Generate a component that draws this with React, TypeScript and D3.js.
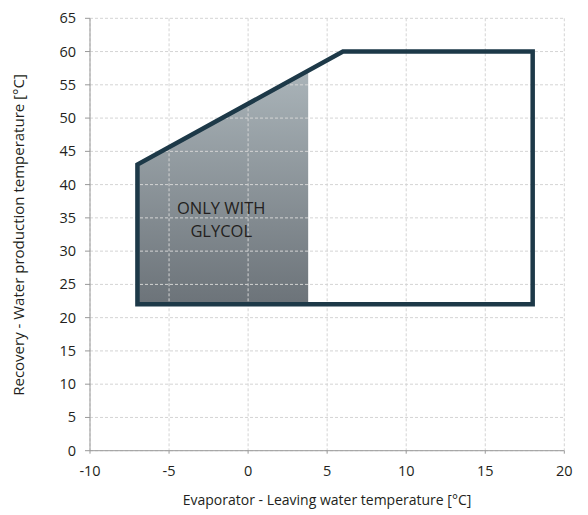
import React from "react";
import * as d3 from "d3";

const xTicks = [-10, -5, 0, 5, 10, 15, 20];
const yTicks = [0, 5, 10, 15, 20, 25, 30, 35, 40, 45, 50, 55, 60, 65];
const envelopeX = [-7, -7, 6, 18, 18];
const envelopeY = [22, 43, 60, 60, 22];
const glycolX = [-7, -7, 3.8, 3.8];
const glycolY = [22, 43, 57.1, 22];
const glycolLabel = ["ONLY WITH", "GLYCOL"];
const xTitle = "Evaporator - Leaving water temperature [°C]";
const yTitle = "Recovery - Water production temperature [°C]";

const W = 588, H = 515;
const left = 90, right = 564.3, top = 18.3, bottom = 450.7;
const font = "'Open Sans', 'Noto Sans', sans-serif";

export default function App() {
  const x = d3.scaleLinear().domain([-10, 20]).range([left, right]);
  const y = d3.scaleLinear().domain([0, 65]).range([bottom, top]);
  const line = d3.line<[number, number]>().x(d => x(d[0])).y(d => y(d[1]));
  const env = envelopeX.map((v, i) => [v, envelopeY[i]] as [number, number]);
  const gly = glycolX.map((v, i) => [v, glycolY[i]] as [number, number]);
  return (
    <svg width={W} height={H} style={{ position: "absolute", left: 0, top: 0 }}>
      <defs>
        <linearGradient id="gg" x1="0" y1="0" x2="0" y2="1">
          <stop offset="0" stopColor="#aab4b9" />
          <stop offset="1" stopColor="#6c7379" />
        </linearGradient>
      </defs>
      <rect width={W} height={H} fill="#fff" />
      <path d={line(gly) + "Z"} fill="url(#gg)" />
      {xTicks.map(t => (
        <line key={"gx" + t} x1={x(t)} x2={x(t)} y1={top} y2={bottom} stroke="#d4d4d4" strokeDasharray="3,2" strokeWidth={1} />
      ))}
      {yTicks.map(t => (
        <line key={"gy" + t} x1={left} x2={right} y1={y(t)} y2={y(t)} stroke="#d4d4d4" strokeDasharray="3,2" strokeWidth={1} />
      ))}
      <line x1={left} x2={left} y1={top} y2={bottom} stroke="#999" strokeWidth={1} />
      <line x1={left} x2={right} y1={bottom} y2={bottom} stroke="#999" strokeWidth={1} />
      {xTicks.map(t => (
        <g key={"xt" + t}>
          <line x1={x(t)} x2={x(t)} y1={bottom} y2={bottom + 3} stroke="#999" />
          <text x={x(t)} y={bottom + 25} textAnchor="middle" fontSize={14.5} fontFamily={font} fill="#231f20">{t}</text>
        </g>
      ))}
      {yTicks.map(t => (
        <g key={"yt" + t}>
          <line x1={left - 5} x2={left} y1={y(t)} y2={y(t)} stroke="#999" />
          <text x={76} y={y(t) + 5} textAnchor="end" fontSize={14.5} fontFamily={font} fill="#231f20">{t}</text>
        </g>
      ))}
      <path d={line(env) + "Z"} fill="none" stroke="#1d3948" strokeWidth={4.5} strokeLinejoin="miter" />
      {glycolLabel.map((s, i) => (
        <text key={s} x={x(-1.7)} y={y(36.2) + 4 + i * 23} textAnchor="middle" fontSize={16.5} fontFamily={font} fill="#231f20">{s}</text>
      ))}
      <text x={327} y={505} textAnchor="middle" fontSize={14} fontFamily={font} fill="#231f20">{xTitle}</text>
      <text transform={`translate(24,235) rotate(-90)`} textAnchor="middle" fontSize={15} fontFamily={font} fill="#231f20">{yTitle}</text>
    </svg>
  );
}
